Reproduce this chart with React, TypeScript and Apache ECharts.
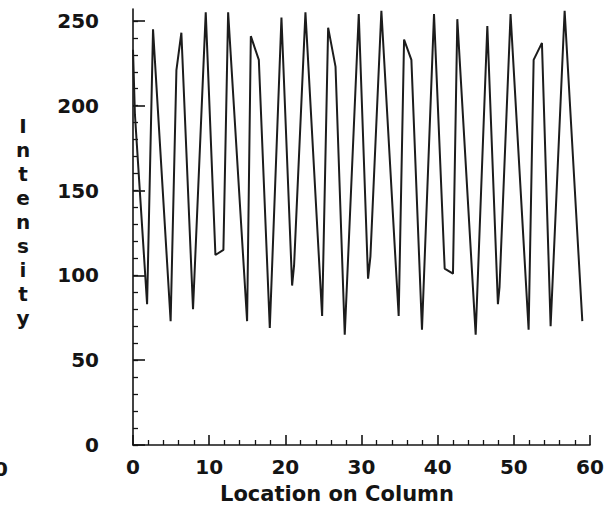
import React, { useEffect, useRef } from 'react';
import * as echarts from 'echarts';

const locations = [
  0, 0.25, 1.85, 2.63, 4.94, 5.7, 6.35, 7.88, 9.55, 10.82, 11.87, 12.49, 14.98, 15.47, 16.52,
  17.96, 19.49, 20.89, 21.15, 22.64, 24.83, 25.62, 26.59, 27.8, 29.64, 30.86, 31.17, 32.61,
  34.88, 35.59, 36.55, 37.94, 39.52, 40.92, 42.01, 42.58, 44.99, 46.52, 47.91, 48.12, 49.57,
  51.94, 52.6, 53.69, 54.83, 56.67, 58.99,
];
const intensity = [
  233, 195, 83, 245, 73, 221, 243, 80, 255, 112, 115, 255, 73, 241, 227,
  69, 252, 94, 106, 255, 76, 246, 223, 65, 254, 98, 111, 256,
  76, 239, 227, 68, 254, 104, 101, 251, 65, 247, 83, 93, 254,
  68, 227, 237, 70, 256, 73,
];

const yMinorTicks = [0, 10, 20, 30, 40, 50, 60, 70, 80, 90, 100, 110, 120, 130, 140, 150, 160, 170, 180, 190, 200, 210, 220, 230, 240, 250];
const yMajorTicks = [0, 50, 100, 150, 200, 250];
const xLabel = 'Location on Column';
const yLabel = 'Intensity';

const FONT = 'DejaVu Sans';
const INK = '#141414';

export default function App() {
  const ref = useRef<HTMLDivElement>(null);

  useEffect(() => {
    if (!ref.current) return;
    const chart = echarts.init(ref.current, undefined, { renderer: 'svg' });
    const data = locations.map((x, i) => [x, intensity[i]]);
    const labelStyle = { color: INK, fontFamily: FONT, fontWeight: 'bold' as const, fontSize: 20 };

    chart.setOption({
      animation: false,
      backgroundColor: '#ffffff',
      grid: { left: 133, right: 17, top: 9, bottom: 67, containLabel: false },
      xAxis: {
        type: 'value',
        min: 0,
        max: 60,
        interval: 10,
        axisLine: { show: true, lineStyle: { color: INK, width: 1.6 } },
        axisTick: { show: true, inside: true, length: 10, lineStyle: { color: INK, width: 1.6 } },
        minorTick: { show: true, splitNumber: 5, length: 5, lineStyle: { color: INK, width: 1.3 } },
        splitLine: { show: false },
        minorSplitLine: { show: false },
        axisLabel: { ...labelStyle, margin: 12 },
      },
      yAxis: [
        {
          type: 'value',
          min: 0,
          max: 257,
          position: 'left',
          axisLine: { show: true, lineStyle: { color: INK, width: 1.6 } },
          axisTick: { show: true, inside: true, length: 5, customValues: yMinorTicks, lineStyle: { color: INK, width: 1.3 } },
          axisLabel: { ...labelStyle, margin: 34, customValues: yMajorTicks },
          splitLine: { show: false },
        },
        {
          type: 'value',
          min: 0,
          max: 257,
          position: 'left',
          offset: 0,
          axisLine: { show: false },
          axisTick: { show: true, inside: true, length: 12, customValues: yMajorTicks, lineStyle: { color: INK, width: 1.6 } },
          axisLabel: { show: false },
          splitLine: { show: false },
        },
      ],
      series: [
        {
          type: 'line',
          data,
          yAxisIndex: 0,
          symbol: 'none',
          showSymbol: false,
          lineStyle: { color: '#1c1c1c', width: 2 },
        },
      ],
      graphic: [
        {
          type: 'text',
          x: 337,
          y: 494,
          style: {
            text: xLabel,
            fill: INK,
            font: `bold 21px "${FONT}"`,
            textAlign: 'center',
            textVerticalAlign: 'middle',
          },
        },
        {
          type: 'text',
          x: 23,
          y: 222,
          style: {
            text: yLabel.split('').join('\n'),
            fill: INK,
            font: `bold 20px "${FONT}"`,
            lineHeight: 24,
            textAlign: 'center',
            textVerticalAlign: 'middle',
          },
        },
        {
          type: 'text',
          x: 8,
          y: 469,
          style: {
            text: '0',
            fill: INK,
            font: `bold 20px "${FONT}"`,
            textAlign: 'right',
            textVerticalAlign: 'middle',
          },
        },
      ],
    });

    return () => chart.dispose();
  }, []);

  return (
    <div
      ref={ref}
      style={{ position: 'fixed', left: 0, top: 0, width: 607, height: 512, background: '#fff' }}
    />
  );
}
